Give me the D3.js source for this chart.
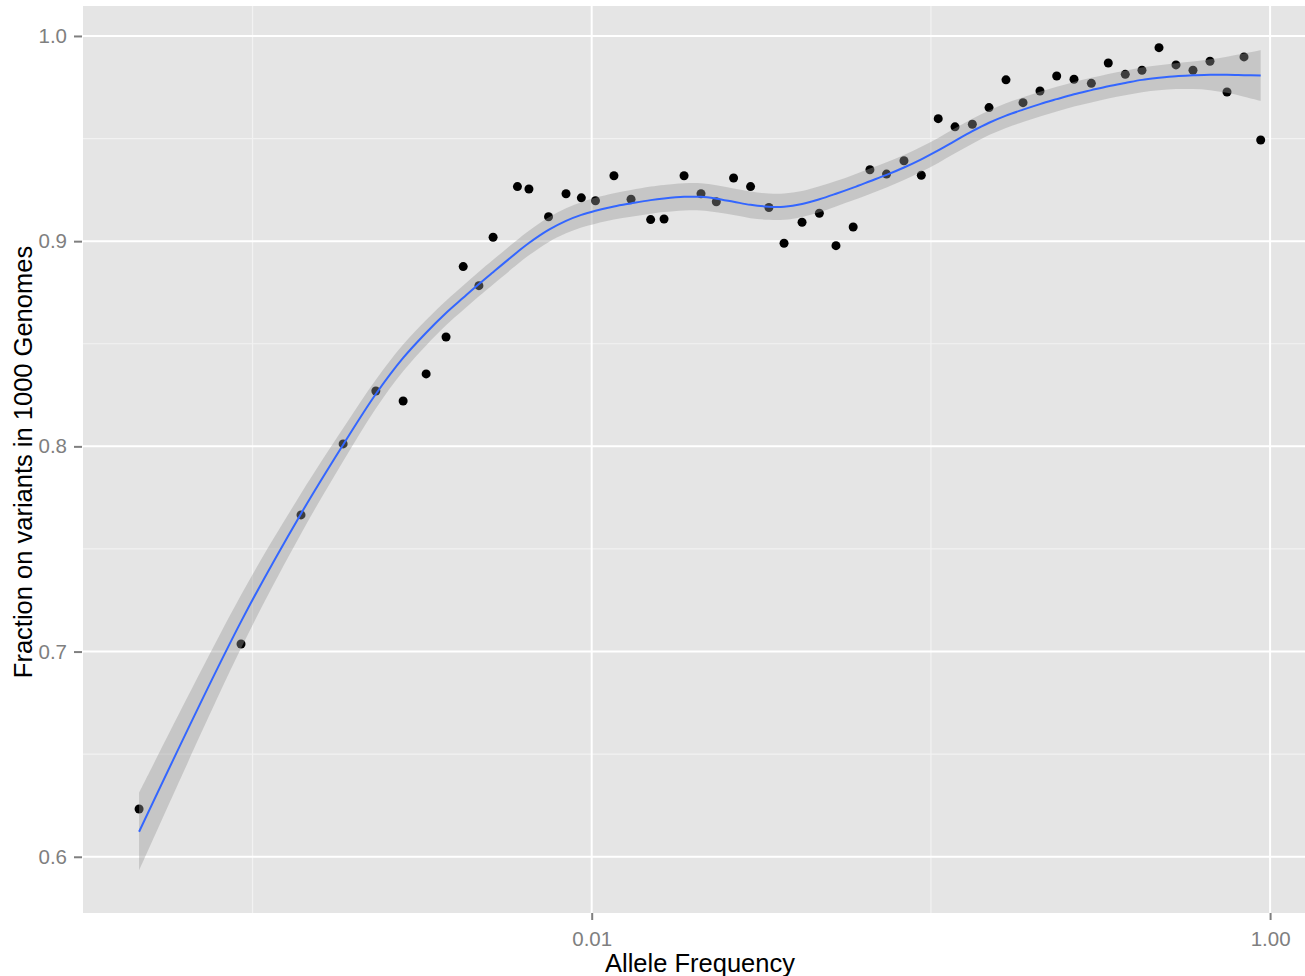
<!DOCTYPE html>
<html>
<head>
<meta charset="utf-8">
<script src="https://cdn.jsdelivr.net/npm/d3@7"></script>
<style>
  body { margin: 0; background: #fff; }
  svg { display: block; font-family: "Liberation Sans", Arial, sans-serif; }
</style>
</head>
<body>
<svg id="chart" width="1305" height="976"></svg>
<script>
// allele frequency bins and observed fraction
const freq = [0.000463, 0.000925, 0.00139, 0.00185, 0.00231, 0.00278, 0.00325, 0.00372, 0.00418, 0.00465,
  0.00512, 0.00604, 0.00653, 0.00746, 0.00840, 0.00932, 0.01026, 0.01163, 0.01306, 0.01492,
  0.01634, 0.01872, 0.0210, 0.0233, 0.0262, 0.0294, 0.0333, 0.0369, 0.0417, 0.0469,
  0.0525, 0.0590, 0.0661, 0.0740, 0.0833, 0.0937, 0.1051, 0.1178, 0.1325, 0.1484,
  0.1665, 0.1869, 0.2097, 0.2349, 0.2642, 0.2972, 0.3334, 0.3742, 0.4191, 0.4704,
  0.5279, 0.5925, 0.6650, 0.7464, 0.8378, 0.9382];
const fraction = [0.6233, 0.7037, 0.7666, 0.8012, 0.8270, 0.8221, 0.8353, 0.8533, 0.8876, 0.8783,
  0.9019, 0.9266, 0.9254, 0.9119, 0.9231, 0.9211, 0.9197, 0.9319, 0.9204, 0.9105,
  0.9108, 0.9319, 0.9231, 0.9192, 0.9308, 0.9266, 0.9164, 0.8990, 0.9092, 0.9136,
  0.8978, 0.9069, 0.9348, 0.9327, 0.9392, 0.9321, 0.9597, 0.9557, 0.9570, 0.9651,
  0.9786, 0.9675, 0.9732, 0.9805, 0.9789, 0.9769, 0.9868, 0.9813, 0.9833, 0.9943,
  0.9859, 0.9833, 0.9877, 0.9727, 0.9898, 0.9493];
// loess smooth at the same x positions
const smoothFit = [0.6122, 0.7146, 0.7672, 0.8008, 0.8255, 0.8431, 0.8554, 0.8650, 0.8724, 0.8791,
  0.8849, 0.8947, 0.8991, 0.9055, 0.9099, 0.9128, 0.9148, 0.9169, 0.9184, 0.9200,
  0.9208, 0.9216, 0.9216, 0.9207, 0.9192, 0.9177, 0.9168, 0.9168, 0.9181, 0.9204,
  0.9231, 0.9261, 0.9292, 0.9323, 0.9359, 0.9399, 0.9442, 0.9489, 0.9536, 0.9577,
  0.9612, 0.9641, 0.9668, 0.9692, 0.9716, 0.9736, 0.9755, 0.9771, 0.9786, 0.9796,
  0.9804, 0.9808, 0.9811, 0.9811, 0.9809, 0.9807];
const smoothSe = [0.0190, 0.0130, 0.0098, 0.0080, 0.0070, 0.0065, 0.0062, 0.0060, 0.0060, 0.0060,
  0.0060, 0.0060, 0.0060, 0.0060, 0.0061, 0.0062, 0.0063, 0.0064, 0.0065, 0.0066,
  0.0066, 0.0066, 0.0066, 0.0066, 0.0065, 0.0065, 0.0064, 0.0064, 0.0063, 0.0063,
  0.0062, 0.0062, 0.0062, 0.0061, 0.0061, 0.0061, 0.0061, 0.0061, 0.0061, 0.0060,
  0.0060, 0.0060, 0.0060, 0.0060, 0.0060, 0.0060, 0.0060, 0.0060, 0.0060, 0.0061,
  0.0063, 0.0067, 0.0075, 0.0088, 0.0105, 0.0123];

const xMajor = [0.01, 1];
const xMinor = [0.001, 0.1];
const xTickLabels = ["0.01", "1.00"];
const yMajor = [0.6, 0.7, 0.8, 0.9, 1.0];
const yMinor = [0.65, 0.75, 0.85, 0.95];
const yTickLabels = ["0.6", "0.7", "0.8", "0.9", "1.0"];

const svg = d3.select("#chart");
const panel = { left: 83, top: 6, right: 1317, bottom: 913 };

const x = d3.scaleLog().domain([0.0003164, 1.375]).range([panel.left, panel.right]);
const y = d3.scaleLinear().domain([0.5726, 1.0146]).range([panel.bottom, panel.top]);

svg.append("rect")
  .attr("x", panel.left).attr("y", panel.top)
  .attr("width", panel.right - panel.left).attr("height", panel.bottom - panel.top)
  .attr("fill", "#e5e5e5");

// grid lines
const grid = svg.append("g");
grid.selectAll(".ymin").data(yMinor).join("line")
  .attr("x1", panel.left).attr("x2", panel.right)
  .attr("y1", d => y(d)).attr("y2", d => y(d))
  .attr("stroke", "#f2f2f2").attr("stroke-width", 1.2);
grid.selectAll(".xmin").data(xMinor).join("line")
  .attr("y1", panel.top).attr("y2", panel.bottom)
  .attr("x1", d => x(d)).attr("x2", d => x(d))
  .attr("stroke", "#f2f2f2").attr("stroke-width", 1.2);
grid.selectAll(".ymaj").data(yMajor).join("line")
  .attr("x1", panel.left).attr("x2", panel.right)
  .attr("y1", d => y(d)).attr("y2", d => y(d))
  .attr("stroke", "#ffffff").attr("stroke-width", 2);
grid.selectAll(".xmaj").data(xMajor).join("line")
  .attr("y1", panel.top).attr("y2", panel.bottom)
  .attr("x1", d => x(d)).attr("x2", d => x(d))
  .attr("stroke", "#ffffff").attr("stroke-width", 2);

const pts = freq.map((f, i) => ({ f, v: fraction[i] }));
const band = freq.map((f, i) => ({ f, fit: smoothFit[i], se: smoothSe[i] }));

svg.append("g").selectAll("circle").data(pts).join("circle")
  .attr("cx", d => x(d.f))
  .attr("cy", d => y(d.v))
  .attr("r", 4.5)
  .attr("fill", "#000");

const area = d3.area()
  .x(d => x(d.f))
  .y0(d => y(d.fit - d.se))
  .y1(d => y(d.fit + d.se))
  .curve(d3.curveCatmullRom);

svg.append("path")
  .datum(band)
  .attr("d", area)
  .attr("fill", "#999999")
  .attr("fill-opacity", 0.4);

const line = d3.line()
  .x(d => x(d.f))
  .y(d => y(d.fit))
  .curve(d3.curveCatmullRom);

svg.append("path")
  .datum(band)
  .attr("d", line)
  .attr("fill", "none")
  .attr("stroke", "#3366ff")
  .attr("stroke-width", 2);

// axes
const xAxis = d3.axisBottom(x)
  .tickValues(xMajor)
  .tickFormat((d, i) => xTickLabels[i])
  .tickSize(7)
  .tickPadding(11);
const gx = svg.append("g").attr("transform", `translate(0,${panel.bottom})`).call(xAxis);
gx.select(".domain").remove();
gx.selectAll("line").attr("stroke", "#7f7f7f").attr("stroke-width", 2);
gx.selectAll("text").attr("fill", "#7f7f7f").attr("font-size", 20.5)
  .attr("font-family", "Liberation Sans, Arial, sans-serif");

const yAxis = d3.axisLeft(y)
  .tickValues(yMajor)
  .tickFormat((d, i) => yTickLabels[i])
  .tickSize(8)
  .tickPadding(7);
const gy = svg.append("g").attr("transform", `translate(${panel.left - 1},0)`).call(yAxis);
gy.select(".domain").remove();
gy.selectAll("line").attr("stroke", "#7f7f7f").attr("stroke-width", 2);
gy.selectAll("text").attr("fill", "#7f7f7f").attr("font-size", 20.5)
  .attr("font-family", "Liberation Sans, Arial, sans-serif");

svg.append("text")
  .attr("x", 700).attr("y", 972)
  .attr("text-anchor", "middle")
  .attr("font-size", 25.5)
  .attr("fill", "#000")
  .text("Allele Frequency");

svg.append("text")
  .attr("transform", "translate(32,462) rotate(-90)")
  .attr("text-anchor", "middle")
  .attr("font-size", 25.5)
  .attr("fill", "#000")
  .text("Fraction on variants in 1000 Genomes");
</script>
</body>
</html>
